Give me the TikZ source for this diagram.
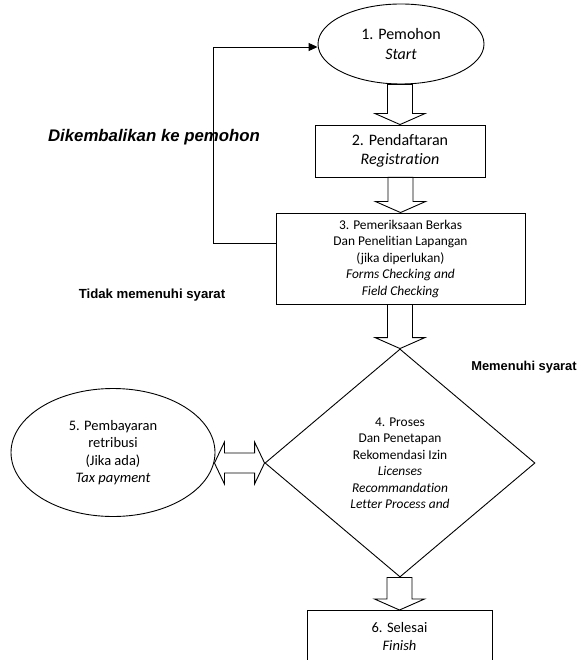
\documentclass[tikz,border=0pt]{standalone}
\usepackage{fontspec}
\setmainfont{Carlito}[Ligatures=NoCommon]
\newfontfamily\arialf{Liberation Sans}
\usetikzlibrary{shapes.geometric,calc,arrows.meta}
\newcommand\blockdown[2]{\draw[blockarr] let \p1=(#1), \p2=(#2) in
  (\x2-12.5pt,\y1) -- (\x2-12.5pt,\y2+11pt) -- (\x2-25pt,\y2+11pt) -- (\x2,\y2)
  -- (\x2+25pt,\y2+11pt) -- (\x2+12.5pt,\y2+11pt) -- (\x2+12.5pt,\y1) -- cycle;}
\begin{document}
\begin{tikzpicture}[x=1pt,y=-1pt,line width=0.9pt,
  bigtxt/.style={font=\fontsize{16}{19.5}\selectfont},
  smalltxt/.style={font=\fontsize{13.4}{16.5}\selectfont},
  midtxt/.style={font=\fontsize{14.5}{17.3}\selectfont},
  flowbox/.style={draw,rectangle,inner sep=0pt,align=center},
  flowell/.style={draw,ellipse,inner sep=0pt,align=center},
  flowdia/.style={draw,diamond,inner sep=0pt,align=center},
  blockarr/.style={draw,line width=0.9pt,line join=miter},
  lbl/.style={inner sep=0pt,font=\arialf\bfseries\fontsize{13.2}{16}\selectfont},
  fbarrow/.style={-{Triangle[length=9pt,width=8pt]}}]
\clip (0,0) rectangle (582,660);
\node[flowell,bigtxt,minimum width=166pt,minimum height=80pt] (n1) at (401,44) {1. Pemohon\\\textit{Start}};
\node[flowbox,bigtxt,minimum width=170pt,minimum height=52pt] (n2) at (400,151) {2. Pendaftaran\\\textit{Registration}};
\node[flowbox,smalltxt,minimum width=249pt,minimum height=91pt] (n3) at (400.5,258.5) {3. Pemeriksaan Berkas\\Dan Penelitian Lapangan\\(jika diperlukan)\\\textit{Forms Checking and}\\\textit{Field Checking}};
\node[flowdia,smalltxt,minimum width=270pt,minimum height=228pt] (n4) at (400,463) {4. Proses\\Dan Penetapan\\Rekomendasi Izin\\\textit{Licenses}\\\textit{Recommandation}\\\textit{Letter Process and}};
\node[flowell,midtxt,minimum width=204pt,minimum height=128pt] (n5) at (113,452.5) {5. Pembayaran\\retribusi\\(Jika ada)\\\textit{Tax payment}};
\node[flowbox,midtxt,minimum width=185pt,minimum height=52pt,anchor=north] (n6) at (399.5,610) {6. Selesai\\\textit{Finish}};
\node[lbl,font=\arialf\bfseries\itshape\fontsize{16.8}{20}\selectfont] (l1) at (154,137) {Dikembalikan ke pemohon};
\node[lbl] (l2) at (152,295) {Tidak memenuhi syarat};
\node[lbl,font=\arialf\bfseries\fontsize{12.9}{16}\selectfont] (l3) at (524,367) {Memenuhi syarat};
\blockdown{n1.south}{n2.north}
\blockdown{n2.south}{n3.north}
\blockdown{n3.south}{n4.north}
\blockdown{n4.south}{n6.north}
\draw[blockarr] let \p1=(n5.east), \p2=(n4.west) in
  (\x1-1pt,\y2) -- (\x1+9pt,\y2+21pt) -- (\x1+9pt,\y2+10pt) -- (\x2-10pt,\y2+10pt)
  -- (\x2-10pt,\y2+21pt) -- (\x2,\y2) -- (\x2-10pt,\y2-21pt) -- (\x2-10pt,\y2-10pt)
  -- (\x1+9pt,\y2-10pt) -- (\x1+9pt,\y2-21pt) -- cycle;
\draw[fbarrow] ($(n3.west)+(0,-15.5)$) -- ++(-62,0) |- ($(n1.west)+(0,3)$);
\end{tikzpicture}
\end{document}
